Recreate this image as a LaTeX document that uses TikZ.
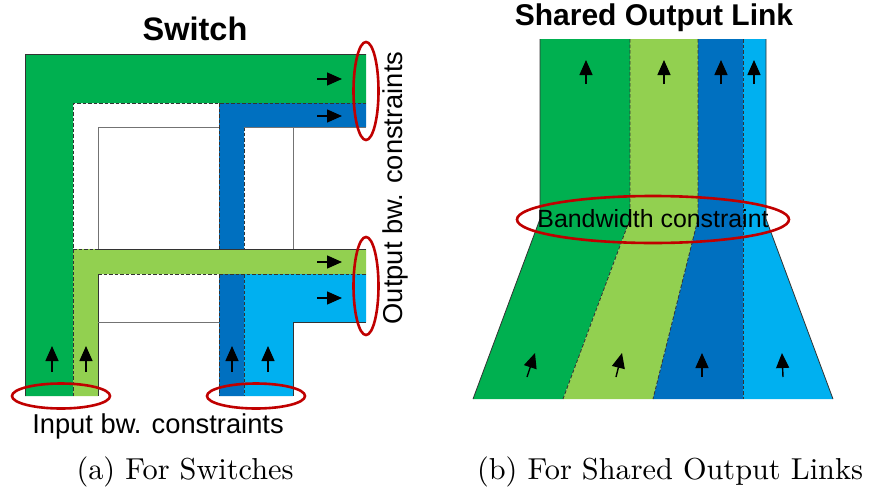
\documentclass[tikz,border=0pt]{standalone}
\usepackage{fontspec}
\newfontfamily\arialfont{Liberation Sans}
\newfontfamily\capfont{lmroman10-regular.otf}
\usetikzlibrary{arrows.meta}
\definecolor{dkgreen}{HTML}{00B050}
\definecolor{ltgreen}{HTML}{92D050}
\definecolor{dkblue}{HTML}{0070C0}
\definecolor{ltblue}{HTML}{00B0F0}
\definecolor{bwred}{HTML}{C00000}
\tikzset{
  edge/.style={draw=black!80, line width=0.8pt},
  greyedge/.style={draw=black!55, line width=0.8pt},
  dashedge/.style={draw=black!80, line width=0.8pt, dash pattern=on 3.5pt off 2pt},
  flow/.style={line width=1.4pt, -{Triangle[length=15pt,width=13pt]}},
  bwring/.style={draw=bwred, line width=2.6pt},
  heading/.style={font=\arialfont\bfseries\fontsize{32.5}{38}\selectfont},
  sanslabel/.style={font=\arialfont\fontsize{27.3}{31}\selectfont, inner sep=0pt},
  caption/.style={font=\capfont\fontsize{30.3}{36}\selectfont, inner sep=0pt}
}
\begin{document}
\begin{tikzpicture}[x=1pt,y=-1pt]
\useasboundingbox (0,0) rectangle (873,490);

% ---------------- (a) switch ----------------
% flow paths
\fill[dkgreen] (25,54) -- (366,54) -- (366,103) -- (73,103) -- (73,396) -- (25,396) -- cycle;
\fill[dkblue]  (219,103) -- (366,103) -- (366,127) -- (244,127) -- (244,396) -- (219,396) -- cycle;
\fill[ltblue]  (244,274) -- (366,274) -- (366,322) -- (293,322) -- (293,396) -- (244,396) -- cycle;
\fill[ltgreen] (73,249) -- (366,249) -- (366,274) -- (98,274) -- (98,396) -- (73,396) -- cycle;

% outlines
\draw[edge] (366,54) -- (25,54) -- (25,396);
\draw[dashedge] (73,396) -- (73,103) -- (366,103);
\draw[dashedge] (219,103) -- (219,249);
\draw[dashedge] (244,127) -- (244,249);
\draw[greyedge] (219,127) -- (98,127) -- (98,249);
\draw[greyedge] (244,127) -- (366,127);
\draw[greyedge] (293,127) -- (293,249);
\draw[edge] (98,249) -- (366,249);
\draw[dashedge] (73,249) -- (98,249);
\draw[dashedge] (98,274) -- (366,274);
\draw[edge] (98,274) -- (98,396);
\draw[greyedge] (98,322) -- (219,322);
\draw[dashedge] (219,274) -- (219,396);
\draw[dashedge] (244,274) -- (244,396);
\draw[edge] (366,322) -- (293,322) -- (293,396);

% flow directions
\draw[flow] (317,79) -- (342,79);
\draw[flow] (317,116) -- (342,116);
\draw[flow] (317,262) -- (342,262);
\draw[flow] (317,298) -- (342,298);
\draw[flow] (52,372) -- (52,346);
\draw[flow] (86,372) -- (86,346);
\draw[flow] (232,372) -- (232,346);
\draw[flow] (268,372) -- (268,346);

% bandwidth constraint markers
\draw[bwring] (366,91) ellipse [x radius=12.5, y radius=49];
\draw[bwring] (366,286) ellipse [x radius=12.5, y radius=49];
\draw[bwring] (61,396) ellipse [x radius=49, y radius=12.5];
\draw[bwring] (256,396) ellipse [x radius=49, y radius=12.5];

\node[heading] (title_sw) at (195,29) {Switch};
\node[sanslabel, rotate=90] (lbl_out) at (395,188) {Output bw. constraints};
\node[sanslabel] (lbl_in) at (158,426) {Input bw. constraints};
\node[caption] (cap_a) at (185,472) {(a) For Switches};

% ---------------- (b) shared output link ----------------
\fill[dkgreen] (540,39) -- (630,39) -- (630,219) -- (563,399) -- (473,399) -- (540,219) -- cycle;
\fill[ltgreen] (630,39) -- (698,39) -- (698,219) -- (653,399) -- (563,399) -- (630,219) -- cycle;
\fill[dkblue]  (698,39) -- (743,39) -- (743,399) -- (653,399) -- (698,219) -- cycle;
\fill[ltblue]  (743,39) -- (766,39) -- (766,219) -- (833,399) -- (743,399) -- cycle;

\draw[edge] (540,39) -- (540,219) -- (473,399);
\draw[edge] (766,39) -- (766,219) -- (833,399);
\draw[dashedge] (630,39) -- (630,219) -- (563,399);
\draw[dashedge] (698,39) -- (698,219) -- (653,399);
\draw[dashedge] (743,39) -- (743,399);

\draw[flow] (586,84) -- (586,60);
\draw[flow] (664,84) -- (664,60);
\draw[flow] (721,84) -- (721,60);
\draw[flow] (754,84) -- (754,60);
\draw[flow] (527,377) -- (535,353);
\draw[flow] (616,377) -- (622,353);
\draw[flow] (702,377) -- (702,353);
\draw[flow] (783,377) -- (782,353);

\node[heading, font=\arialfont\bfseries\fontsize{30}{35}\selectfont] (title_link) at (654,18) {Shared Output Link};
\node[sanslabel, font=\arialfont\fontsize{24.9}{28}\selectfont] (lbl_bw) at (653,219) {Bandwidth constraint};
\draw[bwring] (653,219.5) ellipse [x radius=136, y radius=23.5];
\node[caption] (cap_b) at (670,472) {(b) For Shared Output Links};
\end{tikzpicture}
\end{document}
